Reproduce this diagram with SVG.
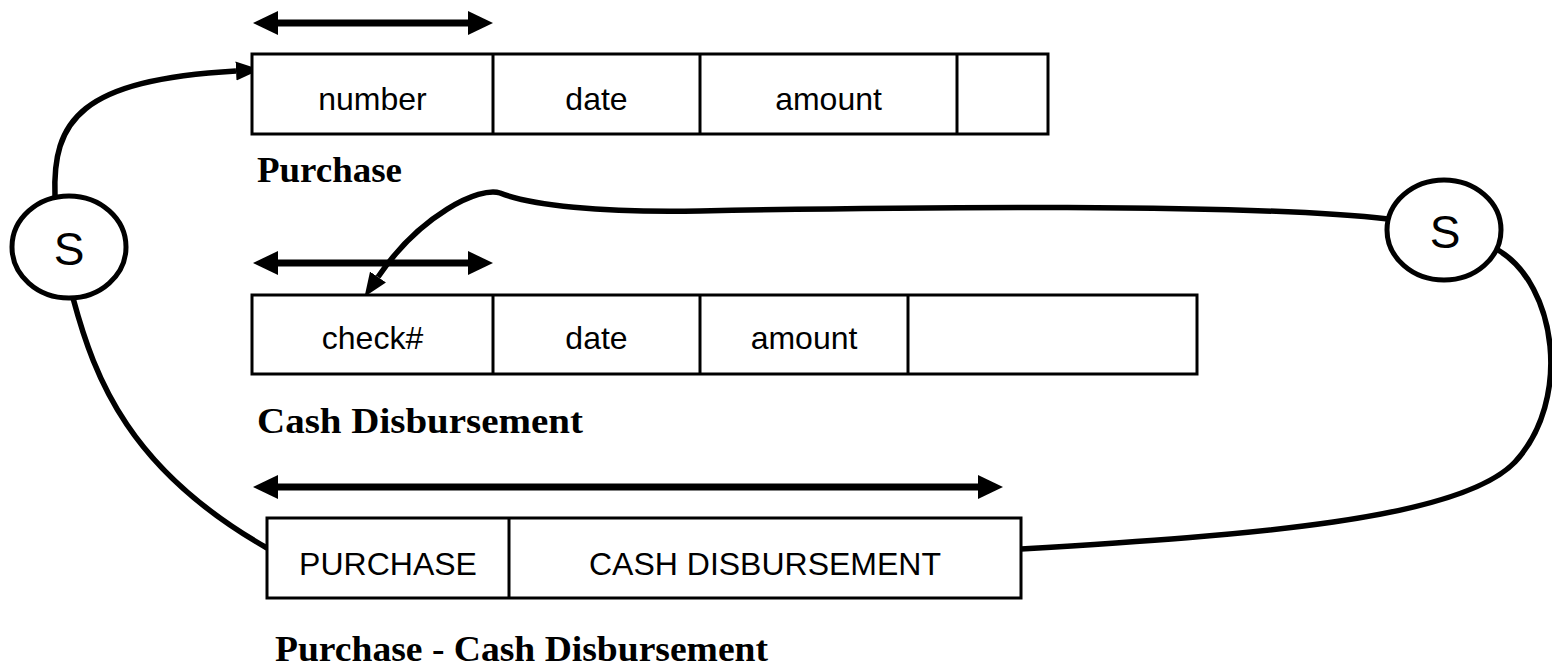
<svg xmlns="http://www.w3.org/2000/svg" width="1552" height="666" viewBox="0 0 1552 666">
<style>
.cell{fill:#fff;stroke:#000;stroke-width:3}
.div{stroke:#000;stroke-width:3}
.ct{font-family:"Liberation Sans",Arial,sans-serif;font-size:32px;text-anchor:middle;fill:#000}
.lbl{font-family:"Liberation Serif","Times New Roman",serif;font-weight:bold;font-size:36px;fill:#000}
.st{font-family:"Liberation Sans",Arial,sans-serif;font-size:46px;text-anchor:middle;fill:#000}
.ell{fill:#fff;stroke:#000;stroke-width:5}
.con{fill:none;stroke:#000;stroke-width:5.5}
.dbl{stroke:#000;stroke-width:7}
.head{fill:#000}
</style>
<defs>
<marker id="ah" markerUnits="userSpaceOnUse" markerWidth="24" markerHeight="20" refX="0" refY="8" orient="auto" viewBox="0 0 20 16">
<path d="M0,0 L20,8 L0,16 Z" fill="#000"/>
</marker>
</defs>
<rect width="1552" height="666" fill="#fff"/>

<g id="span-purchase">
<line class="dbl" x1="270" y1="23" x2="476" y2="23"/>
<path class="head" d="M253,23 L278,11 L278,35 Z"/>
<path class="head" d="M493,23 L468,11 L468,35 Z"/>
</g>
<g id="span-cash">
<line class="dbl" x1="270" y1="263" x2="476" y2="263"/>
<path class="head" d="M253,263 L278,251 L278,275 Z"/>
<path class="head" d="M493,263 L468,251 L468,275 Z"/>
</g>
<g id="span-pcd">
<line class="dbl" x1="270" y1="487" x2="986" y2="487"/>
<path class="head" d="M253,487 L278,475 L278,499 Z"/>
<path class="head" d="M1003,487 L978,475 L978,499 Z"/>
</g>

<g id="connectors">
<path class="con" d="M55,197 C52,120 80,80 236,71" marker-end="url(#ah)"/>
<path class="con" d="M73,298 C95,380 130,470 267,548"/>
<path class="con" d="M1388,219 C1250,203 900,207 700,211 C600,213 530,205 500,193 C480,186 420,215 378,277" marker-end="url(#ah)"/>
<path class="con" d="M1498,250 C1557,285 1572,400 1515,462 C1460,520 1250,535 1021,549"/>
</g>

<g id="purchase">
<rect class="cell" x="252" y="54" width="796" height="80"/>
<line class="div" x1="493" y1="54" x2="493" y2="134"/>
<line class="div" x1="700" y1="54" x2="700" y2="134"/>
<line class="div" x1="957" y1="54" x2="957" y2="134"/>
<text class="ct" x="372.5" y="110">number</text>
<text class="ct" x="596.5" y="110">date</text>
<text class="ct" x="828.5" y="110">amount</text>
<text class="lbl" x="257" y="182" textLength="145" lengthAdjust="spacingAndGlyphs">Purchase</text>
</g>

<g id="cash-disbursement">
<rect class="cell" x="252" y="295" width="945" height="79"/>
<line class="div" x1="493" y1="295" x2="493" y2="374"/>
<line class="div" x1="700" y1="295" x2="700" y2="374"/>
<line class="div" x1="908" y1="295" x2="908" y2="374"/>
<text class="ct" x="372.5" y="349">check#</text>
<text class="ct" x="596.5" y="349">date</text>
<text class="ct" x="804" y="349">amount</text>
<text class="lbl" x="257" y="433" textLength="326" lengthAdjust="spacingAndGlyphs">Cash Disbursement</text>
</g>

<g id="purchase-cash-disbursement">
<rect class="cell" x="267" y="518" width="754" height="80"/>
<line class="div" x1="509" y1="518" x2="509" y2="598"/>
<text class="ct" x="388" y="575">PURCHASE</text>
<text class="ct" x="765" y="575">CASH DISBURSEMENT</text>
<text class="lbl" x="275" y="661" textLength="493" lengthAdjust="spacingAndGlyphs">Purchase - Cash Disbursement</text>
</g>

<g id="s-left">
<ellipse class="ell" cx="69" cy="247" rx="57" ry="51"/>
<text class="st" x="69" y="265">S</text>
</g>
<g id="s-right">
<ellipse class="ell" cx="1444" cy="230" rx="57" ry="50"/>
<text class="st" x="1445" y="248">S</text>
</g>
</svg>
